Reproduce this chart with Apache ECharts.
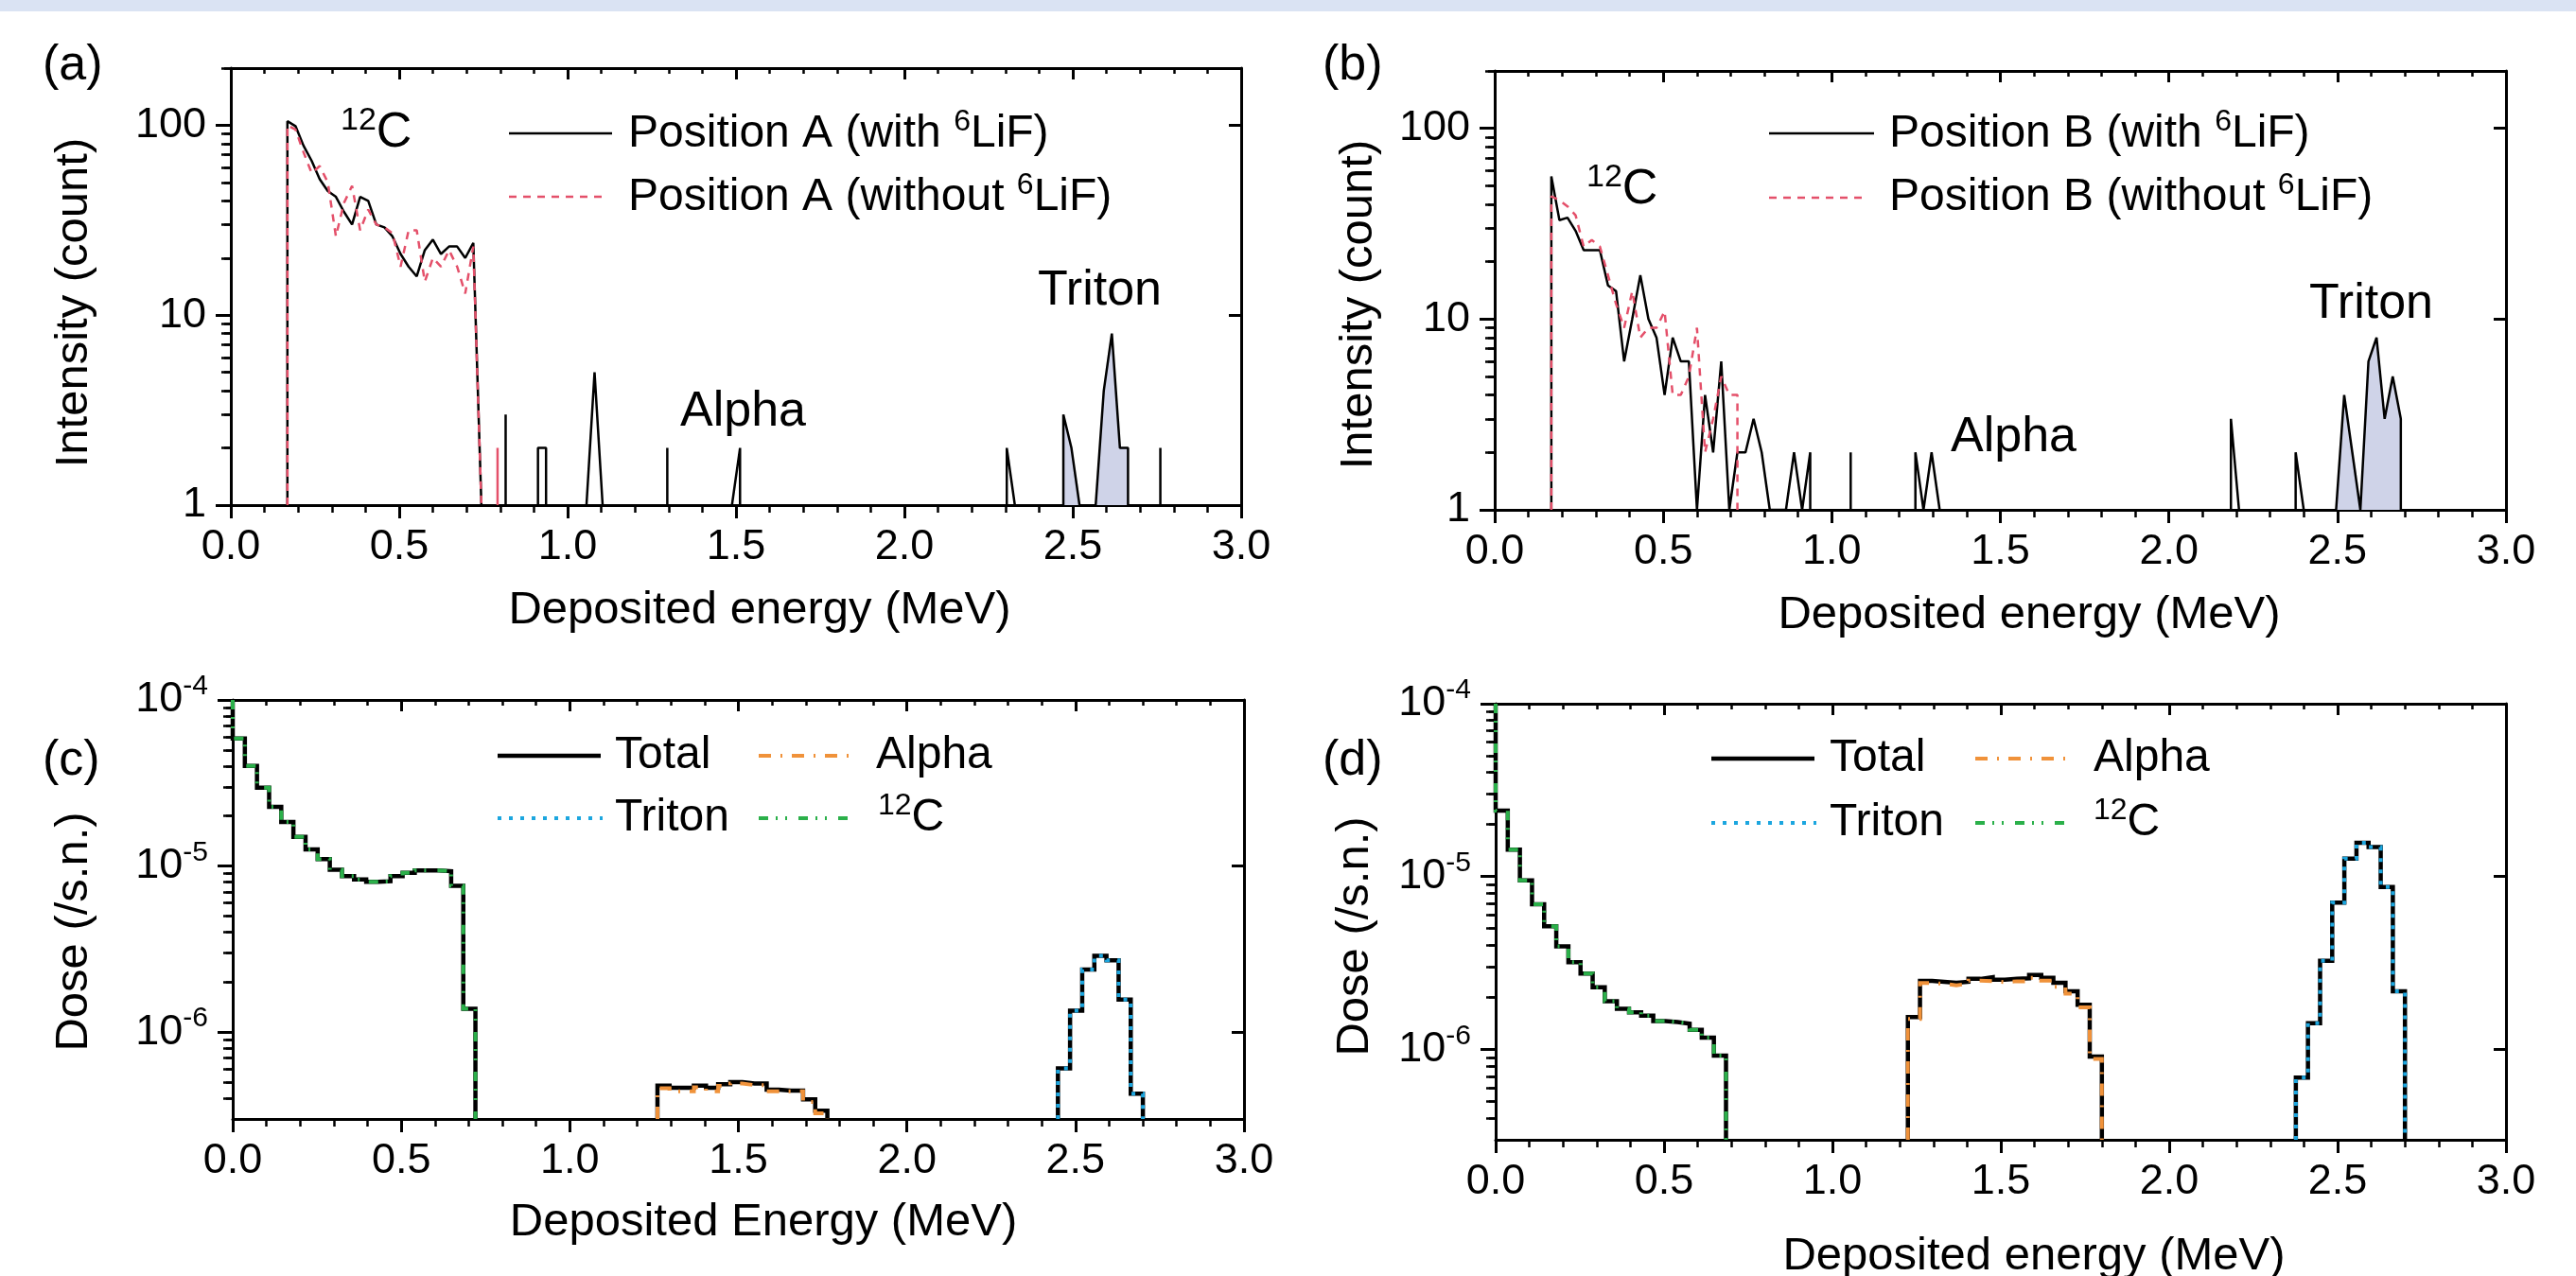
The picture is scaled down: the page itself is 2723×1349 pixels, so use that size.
<!DOCTYPE html>
<html>
<head>
<meta charset="utf-8">
<title>Deposited energy spectra and dose</title>
<script src="https://cdn.jsdelivr.net/npm/echarts@6/dist/echarts.min.js"></script>
<style>
  html, body { margin: 0; padding: 0; background: #fff; }
  #chart { width: 2723px; height: 1349px; }
</style>
</head>
<body>
<div id="chart"></div>
<script>
var FONT = "'Liberation Sans', Arial, sans-serif";

// measured spectra (a, b): counts per 0.024 MeV channel, channel i starts at i*0.024 MeV
var channelWidth = 0.024;
var countsAWith = [
  0, 0, 0, 0, 0, 0, 0, 105, 99, 78,
  65, 52, 45, 42, 35, 30, 42, 40, 30, 29,
  26, 21, 18, 16, 22, 25, 21, 23, 23, 20,
  24, 1, 0, 0, 3, 0, 0, 0, 2, 2,
  0, 0, 0, 0, 1, 5, 1, 0, 0, 0,
  0, 0, 0, 0, 2, 0, 0, 0, 0, 0,
  0, 0, 1, 2, 0, 0, 0, 0, 0, 0,
  0, 0, 0, 0, 0, 0, 0, 0, 0, 0,
  0, 0, 0, 0, 0, 0, 0, 0, 0, 0,
  0, 0, 0, 0, 0, 0, 2, 1, 0, 0,
  0, 0, 0, 3, 2, 1, 0, 1, 4, 8,
  2, 2, 0, 0, 0, 2, 0
];
var countsAWithout = [
  0, 0, 0, 0, 0, 0, 0, 100, 95, 72,
  56, 61, 50, 26, 39, 48, 28, 36, 30, 29,
  27, 18, 28, 28, 15, 20, 18, 22, 18, 13,
  23, 1, 0, 2, 0, 0
];
var countsBWith = [
  0, 0, 0, 0, 0, 0, 0, 56, 33, 34,
  29, 23, 23, 23, 15, 14, 6, 10, 17, 10,
  8, 4, 8, 6, 6, 1, 4, 2, 6, 1,
  2, 2, 3, 2, 1, 1, 1, 2, 1, 2,
  0, 0, 0, 0, 2, 0, 0, 0, 0, 0,
  0, 0, 2, 1, 2, 1, 0, 0, 0, 0,
  0, 0, 0, 0, 0, 0, 0, 0, 0, 0,
  0, 0, 0, 0, 0, 0, 0, 0, 0, 0,
  0, 0, 0, 0, 0, 0, 0, 0, 0, 0,
  0, 3, 1, 0, 0, 0, 0, 0, 0, 2,
  1, 0, 0, 0, 1, 4, 2, 1, 6, 8,
  3, 5, 3, 0
];
var countsBWithout = [
  0, 0, 0, 0, 0, 0, 0, 44, 42, 39,
  35, 24, 26, 24, 17, 12, 9, 14, 8, 9,
  9, 11, 4, 4, 5, 9, 2, 3, 5, 4,
  4, 0
];
// shaded triton window (MeV)
var tritonWindowA = [2.46, 2.67];
var tritonWindowB = [2.49, 2.69];

// simulated dose (c, d): /s.n. per 0.036 MeV bin
var doseBinWidth = 0.036;
var cTotal = [
  5.87e-5, 4.01e-5, 2.96e-5, 2.27e-5, 1.84e-5, 1.50e-5, 1.26e-5, 1.10e-5, 9.5e-6, 8.7e-6,
  8.3e-6, 8.04e-6, 8.1e-6, 8.7e-6, 9.1e-6, 9.4e-6, 9.4e-6, 9.3e-6, 7.6e-6, 1.38e-6,
  0, 0, 0, 0, 0, 0, 0, 0, 0, 0,
  0, 0, 0, 0, 0, 4.76e-7, 4.62e-7, 4.62e-7, 4.76e-7, 4.62e-7,
  4.86e-7, 5.01e-7, 4.9e-7, 4.9e-7, 4.5e-7, 4.45e-7, 4.45e-7, 3.94e-7, 3.36e-7, 0,
  0, 0, 0, 0, 0, 0, 0, 0, 0, 0,
  0, 0, 0, 0, 0, 0, 0, 0, 6.05e-7, 1.345e-6,
  2.38e-6, 2.88e-6, 2.71e-6, 1.57e-6, 4.26e-7
];
var cCarbonStart = 0;
var cCarbon = [
  5.87e-5, 4.01e-5, 2.96e-5, 2.27e-5, 1.84e-5, 1.50e-5, 1.26e-5, 1.10e-5, 9.5e-6, 8.7e-6,
  8.3e-6, 8.04e-6, 8.1e-6, 8.7e-6, 9.1e-6, 9.4e-6, 9.4e-6, 9.3e-6, 7.6e-6, 1.38e-6
];
var cAlphaStart = 35;
var cAlpha = [4.6e-7, 4.4e-7, 4.4e-7, 4.65e-7, 4.4e-7, 4.75e-7, 4.9e-7, 4.8e-7, 4.8e-7, 4.4e-7, 4.4e-7, 4.4e-7, 3.8e-7, 3.25e-7];
var cTritonStart = 68;
var cTriton = [6.05e-7, 1.345e-6, 2.38e-6, 2.88e-6, 2.71e-6, 1.57e-6, 4.26e-7];

var dTotal = [
  2.41e-5, 1.43e-5, 9.5e-6, 6.92e-6, 5.16e-6, 3.95e-6, 3.2e-6, 2.75e-6, 2.29e-6, 1.90e-6,
  1.72e-6, 1.64e-6, 1.57e-6, 1.46e-6, 1.44e-6, 1.41e-6, 1.30e-6, 1.17e-6, 9.2e-7, 0,
  0, 0, 0, 0, 0, 0, 0, 0, 0, 0,
  0, 0, 0, 0, 1.54e-6, 2.49e-6, 2.46e-6, 2.43e-6, 2.46e-6, 2.56e-6,
  2.62e-6, 2.53e-6, 2.56e-6, 2.58e-6, 2.70e-6, 2.60e-6, 2.43e-6, 2.17e-6, 1.81e-6, 9.1e-7,
  0, 0, 0, 0, 0, 0, 0, 0, 0, 0,
  0, 0, 0, 0, 0, 0, 6.86e-7, 1.42e-6, 3.26e-6, 7.06e-6,
  1.27e-5, 1.57e-5, 1.48e-5, 8.7e-6, 2.17e-6
];
var dCarbonStart = 0;
var dCarbon = [
  2.41e-5, 1.43e-5, 9.5e-6, 6.92e-6, 5.16e-6, 3.95e-6, 3.2e-6, 2.75e-6, 2.29e-6, 1.90e-6,
  1.72e-6, 1.64e-6, 1.57e-6, 1.46e-6, 1.44e-6, 1.41e-6, 1.30e-6, 1.17e-6, 9.2e-7
];
var dAlphaStart = 34;
var dAlpha = [1.5e-6, 2.42e-6, 2.4e-6, 2.35e-6, 2.4e-6, 2.5e-6, 2.48e-6, 2.45e-6, 2.48e-6, 2.48e-6, 2.6e-6, 2.5e-6, 2.3e-6, 2.1e-6, 1.75e-6, 8.8e-7];
var dTritonStart = 66;
var dTriton = [6.86e-7, 1.42e-6, 3.26e-6, 7.06e-6, 1.27e-5, 1.57e-5, 1.48e-5, 8.7e-6, 2.17e-6];

// tick values
var countTicks = [1, 10, 100];
var countMinorTicks = [2, 3, 4, 5, 6, 7, 8, 9, 20, 30, 40, 50, 60, 70, 80, 90, 200];
var doseTicks = [1e-6, 1e-5, 1e-4];
var doseMinorTicks = [4e-7, 5e-7, 6e-7, 7e-7, 8e-7, 9e-7, 2e-6, 3e-6, 4e-6, 5e-6, 6e-6, 7e-6, 8e-6, 9e-6,
                      2e-5, 3e-5, 4e-5, 5e-5, 6e-5, 7e-5, 8e-5, 9e-5];

var panels = [
  { rect: { left: 244, top: 72, width: 1068, height: 462 }, yMin: 1, yMax: 200, ticks: countTicks, minor: countMinorTicks, sci: false },
  { rect: { left: 1580, top: 75, width: 1069, height: 464 }, yMin: 1, yMax: 200, ticks: countTicks, minor: countMinorTicks, sci: false },
  { rect: { left: 246, top: 740, width: 1069, height: 443 }, yMin: 3e-7, yMax: 1e-4, ticks: doseTicks, minor: doseMinorTicks, sci: true },
  { rect: { left: 1581, top: 744, width: 1068, height: 461 }, yMin: 3e-7, yMax: 1e-4, ticks: doseTicks, minor: doseMinorTicks, sci: true }
];

function round4(v) { return Math.round(v * 10000) / 10000; }

// polyline through channel counts; empty channels drop straight to the axis
function channelLine(counts, yMin, win) {
  var pts = [], open = false, lastE = 0;
  for (var i = 0; i < counts.length; i++) {
    var e = round4(i * channelWidth);
    var c = (!win || (e >= win[0] && e <= win[1])) ? counts[i] : 0;
    if (c > 0) {
      if (!open) pts.push([e, yMin]);
      pts.push([e, c]);
      open = true; lastE = e;
    } else if (open) {
      pts.push([lastE, yMin], ['-', '-']);
      open = false;
    }
  }
  if (open) pts.push([lastE, yMin]);
  return pts;
}

// step outline of a histogram
function histLine(values, start, yMin, yTop) {
  var pts = [], open = false;
  for (var k = 0; k < values.length; k++) {
    var left = round4((start + k) * doseBinWidth), right = round4((start + k + 1) * doseBinWidth);
    var v = values[k];
    if (v > 0) {
      if (!open) pts.push([left, left === 0 ? yTop : yMin]);
      pts.push([left, v], [right, v]);
      open = true;
    } else if (open) {
      pts.push([left, yMin], ['-', '-']);
      open = false;
    }
  }
  if (open) pts.push([round4((start + values.length) * doseBinWidth), yMin]);
  return pts;
}

var grids = [], xAxes = [], yAxes = [], series = [];

panels.forEach(function (p, i) {
  grids.push(Object.assign({ outerBoundsMode: 'none', containLabel: false }, p.rect));
  var xBase = {
    gridIndex: i, type: 'value', min: 0, max: 3, interval: 0.5,
    splitLine: { show: false },
    axisLine: { onZero: false, lineStyle: { color: '#000', width: 3 } }
  };
  xAxes.push(Object.assign({}, xBase, {
    position: 'bottom',
    axisTick: { length: 14, lineStyle: { color: '#000', width: 3 } },
    minorTick: { show: true, splitNumber: 5, length: 8, lineStyle: { color: '#000', width: 2.5 } },
    axisLabel: { fontSize: 45, fontFamily: FONT, color: '#000', margin: 22,
      formatter: function (v) { return v.toFixed(1); } }
  }));
  xAxes.push(Object.assign({}, xBase, {
    position: 'top',
    axisTick: { inside: true, length: 12, lineStyle: { color: '#000', width: 3 } },
    minorTick: { show: true, splitNumber: 5, length: 6, lineStyle: { color: '#000', width: 2.5 } },
    axisLabel: { show: false }
  }));

  var yBase = {
    gridIndex: i, type: 'log', logBase: 10, min: p.yMin, max: p.yMax,
    splitLine: { show: false }, minorTick: { show: false }, axisLabel: { show: false }
  };
  var labelFmt = p.sci
    ? function (v) { return '{b|10}{s|' + Math.round(Math.log10(v)) + '}'; }
    : function (v) { return String(Math.round(v)); };
  yAxes.push(Object.assign({}, yBase, {
    position: 'left',
    axisLine: { show: true, onZero: false, lineStyle: { color: '#000', width: 3 } },
    axisTick: { show: true, customValues: p.ticks, length: 16, lineStyle: { color: '#000', width: 3 } },
    axisLabel: {
      show: true, customValues: p.ticks, fontSize: 45, fontFamily: FONT, color: '#000', margin: 26,
      formatter: labelFmt,
      rich: {
        b: { fontSize: 45, fontFamily: FONT, color: '#000', lineHeight: 58 },
        s: { fontSize: 30, fontFamily: FONT, color: '#000', lineHeight: 28, verticalAlign: 'top' }
      }
    }
  }));
  yAxes.push(Object.assign({}, yBase, {
    position: 'left',
    axisLine: { show: false },
    axisTick: { show: true, customValues: p.minor, length: 10, lineStyle: { color: '#000', width: 2.5 } }
  }));
  yAxes.push(Object.assign({}, yBase, {
    position: 'right',
    axisLine: { show: true, onZero: false, lineStyle: { color: '#000', width: 3 } },
    axisTick: { show: true, inside: true, customValues: p.ticks, length: 13, lineStyle: { color: '#000', width: 3 } }
  }));
  yAxes.push(Object.assign({}, yBase, {
    position: 'right',
    axisLine: { show: false },
    axisTick: { show: true, inside: true, customValues: p.minor, length: 7, lineStyle: { color: '#000', width: 2.5 } }
  }));
});

function line(panel, name, data, color, width, dash, z, join) {
  return {
    type: 'line', name: name, xAxisIndex: 2 * panel, yAxisIndex: 4 * panel, data: data,
    showSymbol: false, symbol: 'none', silent: true, animation: false, z: z,
    lineStyle: { color: color, width: width, type: dash || 'solid', cap: 'butt', join: join || 'bevel' }
  };
}
function fill(panel, data) {
  var s = line(panel, 'fill' + panel, data, '#000', 0, null, 1);
  s.lineStyle.opacity = 0;
  s.areaStyle = { color: '#cfd3e8', opacity: 1, origin: 'start' };
  return s;
}

var RED = '#e4506a', ORANGE = '#f0923a', GREEN = '#2bb04a', CYAN = '#1ca6df';
var redDash = [8, 7], alphaDash = [13, 10, 2, 10], carbonDash = [10, 8, 2, 8, 2, 12], tritonDot = [4, 8];

series.push(fill(0, channelLine(countsAWith, 1, tritonWindowA)));
series.push(line(0, 'Position A (with 6LiF)', channelLine(countsAWith, 1), '#000', 2.5, null, 3));
series.push(line(0, 'Position A (without 6LiF)', channelLine(countsAWithout, 1), RED, 2.5, redDash, 4));

series.push(fill(1, channelLine(countsBWith, 1, tritonWindowB)));
series.push(line(1, 'Position B (with 6LiF)', channelLine(countsBWith, 1), '#000', 2.5, null, 3));
series.push(line(1, 'Position B (without 6LiF)', channelLine(countsBWithout, 1), RED, 2.5, redDash, 4));

series.push(line(2, 'Total', histLine(cTotal, 0, 3e-7, 1e-4), '#000', 4.5, null, 3, 'miter'));
series.push(line(2, 'Triton', histLine(cTriton, cTritonStart, 3e-7, 1e-4), CYAN, 4, tritonDot, 4, 'miter'));
series.push(line(2, 'Alpha', histLine(cAlpha, cAlphaStart, 3e-7, 1e-4), ORANGE, 4, alphaDash, 4, 'miter'));
series.push(line(2, '12C', histLine(cCarbon, cCarbonStart, 3e-7, 1e-4), GREEN, 4, carbonDash, 5, 'miter'));

series.push(line(3, 'Total', histLine(dTotal, 0, 3e-7, 1e-4), '#000', 4.5, null, 3, 'miter'));
series.push(line(3, 'Triton', histLine(dTriton, dTritonStart, 3e-7, 1e-4), CYAN, 4, tritonDot, 4, 'miter'));
series.push(line(3, 'Alpha', histLine(dAlpha, dAlphaStart, 3e-7, 1e-4), ORANGE, 4, alphaDash, 4, 'miter'));
series.push(line(3, '12C', histLine(dCarbon, dCarbonStart, 3e-7, 1e-4), GREEN, 4, carbonDash, 5, 'miter'));

// texts
var RICH = {
  t: { fontSize: 48, fontFamily: FONT, fill: '#000', lineHeight: 58 },
  s: { fontSize: 32, fontFamily: FONT, fill: '#000', lineHeight: 30, verticalAlign: 'top' },
  m: { fontSize: 52, fontFamily: FONT, fill: '#000', lineHeight: 60 },
  ss: { fontSize: 34, fontFamily: FONT, fill: '#000', lineHeight: 38, verticalAlign: 'top' }
};
function text(x, y, str, size, opts) {
  opts = opts || {};
  return {
    type: 'text', x: x, y: y, rotation: opts.rotation || 0, silent: true, z: 10,
    style: { text: str, fontSize: size, fontFamily: FONT, fill: '#000', rich: RICH,
      align: opts.align || 'left', verticalAlign: 'middle' }
  };
}
function sample(x1, x2, y, color, width, dash) {
  return { type: 'line', silent: true, z: 10, shape: { x1: x1, y1: y, x2: x2, y2: y },
    style: { stroke: color, lineWidth: width, lineDash: dash || null } };
}

var graphics = [
  { type: 'rect', shape: { x: 0, y: 0, width: 2723, height: 12 }, style: { fill: '#dae3f3' }, silent: true },
  text(45, 70, '(a)', 52), text(1398, 70, '(b)', 52), text(45, 805, '(c)', 52), text(1398, 805, '(d)', 52),

  sample(538, 647, 141, '#000', 2.5), text(664, 142, '{t|Position A (with }{s|6}{t|LiF)}', 48),
  sample(538, 641, 208, RED, 2.5, redDash), text(664, 209, '{t|Position A (without }{s|6}{t|LiF)}', 48),
  sample(1870, 1981, 141, '#000', 2.5), text(1997, 142, '{t|Position B (with }{s|6}{t|LiF)}', 48),
  sample(1870, 1975, 209, RED, 2.5, redDash), text(1997, 209, '{t|Position B (without }{s|6}{t|LiF)}', 48),

  text(360, 141, '{ss|12}{m|C}', 52), text(1097, 308, 'Triton', 52), text(719, 436, 'Alpha', 52),
  text(1677, 201, '{ss|12}{m|C}', 52), text(2441, 322, 'Triton', 52), text(2062, 463, 'Alpha', 52),

  sample(526, 635, 799, '#000', 4.5), text(650, 799, 'Total', 48),
  sample(526, 637, 865, CYAN, 4, tritonDot), text(650, 865, 'Triton', 48),
  sample(802, 902, 799, ORANGE, 4, alphaDash), text(926, 799, 'Alpha', 48),
  sample(802, 902, 865, GREEN, 4, carbonDash), text(928, 865, '{s|12}{t|C}', 48),

  sample(1809, 1918, 802, '#000', 4.5), text(1934, 802, 'Total', 48),
  sample(1809, 1920, 870, CYAN, 4, tritonDot), text(1934, 870, 'Triton', 48),
  sample(2088, 2188, 802, ORANGE, 4, alphaDash), text(2213, 802, 'Alpha', 48),
  sample(2088, 2188, 870, GREEN, 4, carbonDash), text(2213, 870, '{s|12}{t|C}', 48),

  text(803, 645, 'Deposited energy (MeV)', 49, { align: 'center' }),
  text(2145, 650, 'Deposited energy (MeV)', 49, { align: 'center' }),
  text(807, 1292, 'Deposited Energy (MeV)', 49, { align: 'center' }),
  text(2150, 1328, 'Deposited energy (MeV)', 49, { align: 'center' }),
  text(78, 320, 'Intensity (count)', 49, { align: 'center', rotation: Math.PI / 2 }),
  text(1436, 322, 'Intensity (count)', 49, { align: 'center', rotation: Math.PI / 2 }),
  text(78, 985, 'Dose (/s.n.)', 49, { align: 'center', rotation: Math.PI / 2 }),
  text(1432, 990, 'Dose (/s.n.)', 49, { align: 'center', rotation: Math.PI / 2 })
];

var chart = echarts.init(document.getElementById('chart'), null, { renderer: 'canvas' });
chart.setOption({
  backgroundColor: '#fff',
  animation: false,
  grid: grids,
  xAxis: xAxes,
  yAxis: yAxes,
  series: series,
  graphic: graphics
});
</script>
</body>
</html>
